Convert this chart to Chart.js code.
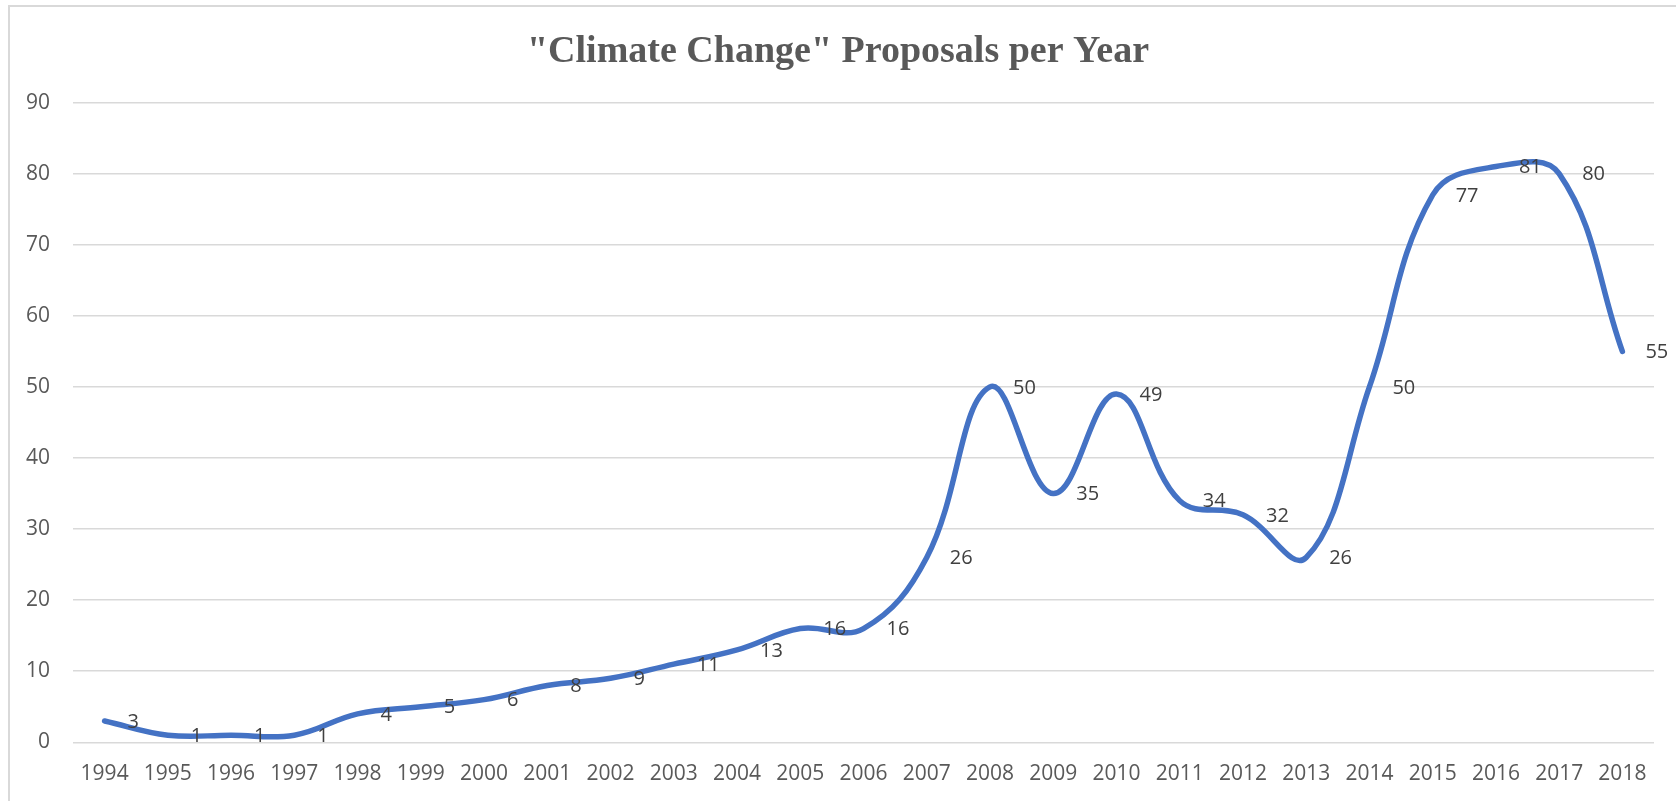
<!DOCTYPE html>
<html>
<head>
<meta charset="utf-8">
<script src="https://cdn.jsdelivr.net/npm/chart.js@4/dist/chart.umd.min.js"></script>
<style>
  html, body { margin: 0; padding: 0; background: #ffffff; }
  #wrap { width: 1676px; height: 801px; position: relative; }
</style>
</head>
<body>
<div id="wrap"><canvas id="c" width="1676" height="801"></canvas></div>
<script>
const years = ['1994','1995','1996','1997','1998','1999','2000','2001','2002','2003','2004','2005','2006','2007','2008','2009','2010','2011','2012','2013','2014','2015','2016','2017','2018'];
const proposals = [3, 1, 1, 1, 4, 5, 6, 8, 9, 11, 13, 16, 16, 26, 50, 35, 49, 34, 32, 26, 50, 77, 81, 80, 55];
const yTicks = [0, 10, 20, 30, 40, 50, 60, 70, 80, 90];
const titleText = '"Climate Change" Proposals per Year';

const frame = {
  id: 'frame',
  beforeDraw(chart) {
    const ctx = chart.ctx;
    ctx.save();
    ctx.fillStyle = '#ffffff';
    ctx.fillRect(0, 0, chart.width, chart.height);
    ctx.strokeStyle = '#d9d9d9';
    ctx.lineWidth = 2;
    ctx.strokeRect(9, 6, chart.width + 20, chart.height + 20);
    ctx.restore();
  }
};

const valueLabels = {
  id: 'valueLabels',
  afterDatasetsDraw(chart) {
    const ctx = chart.ctx;
    const meta = chart.getDatasetMeta(0);
    ctx.save();
    ctx.font = '20px "Open Sans", sans-serif';
    ctx.fillStyle = '#404040';
    ctx.textAlign = 'left';
    ctx.textBaseline = 'middle';
    meta.data.forEach((pt, i) => {
      ctx.fillText(String(proposals[i]), pt.x + 23, pt.y + 1);
    });
    ctx.restore();
  }
};

new Chart(document.getElementById('c'), {
  type: 'line',
  data: {
    labels: years,
    datasets: [{
      data: proposals,
      borderColor: '#4472C4',
      borderWidth: 5.5,
      tension: 0.4,
      pointRadius: 0,
      pointHoverRadius: 0,
      fill: false,
      borderCapStyle: 'round',
      borderJoinStyle: 'round'
    }]
  },
  options: {
    responsive: false,
    animation: false,
    devicePixelRatio: 1,
    layout: { padding: { left: 22, right: 22, top: 0, bottom: 0 } },
    plugins: {
      legend: { display: false },
      tooltip: { enabled: false },
      title: {
        display: true,
        text: titleText,
        color: '#595959',
        font: { family: '"Liberation Serif", "Times New Roman", serif', size: 38, weight: 'bold', lineHeight: 1.2 },
        padding: { top: 29, bottom: 28 }
      }
    },
    scales: {
      x: {
        offset: true,
        grid: { display: false, drawTicks: false },
        border: { display: false },
        ticks: {
          autoSkip: false,
          maxRotation: 0,
          minRotation: 0,
          padding: 19,
          color: '#595959',
          font: { family: '"Open Sans", sans-serif', size: 21 }
        },
        afterFit(scale) { scale.height = 58.7; }
      },
      y: {
        min: 0,
        max: 90,
        afterBuildTicks(scale) { scale.ticks = yTicks.map(v => ({ value: v })); },
        grid: { color: '#d9d9d9', lineWidth: 1.5, drawTicks: false },
        border: { display: false },
        ticks: {
          padding: 23,
          color: '#595959',
          font: { family: '"Open Sans", sans-serif', size: 21 }
        },
        afterFit(scale) { scale.width = 51; }
      }
    }
  },
  plugins: [frame, valueLabels]
});
</script>
</body>
</html>
